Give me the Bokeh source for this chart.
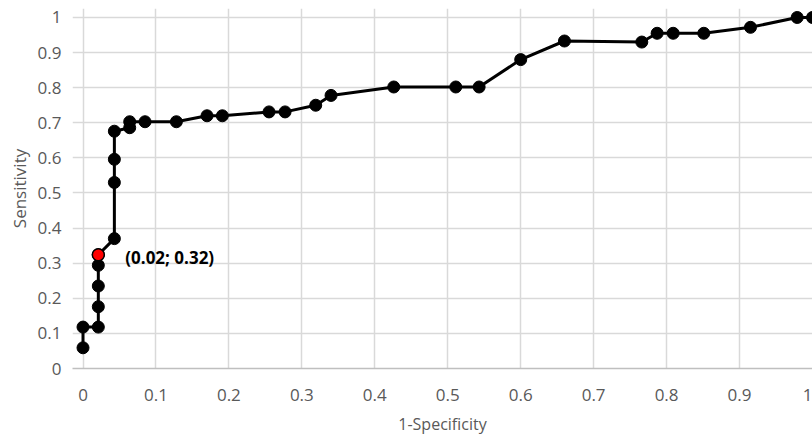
from bokeh.plotting import figure
from bokeh.models import Range1d, FixedTicker, Label, ColumnDataSource
from bokeh.embed import file_html
from bokeh.resources import INLINE

# 1-Specificity (false positive rate) and Sensitivity values of the ROC curve
fpr = [0.0, 0.0, 0.021, 0.021, 0.021, 0.021, 0.021, 0.043, 0.043, 0.043, 0.043,
       0.064, 0.064, 0.085, 0.128, 0.170, 0.191, 0.255, 0.277, 0.319, 0.340,
       0.426, 0.511, 0.543, 0.600, 0.660, 0.766, 0.787, 0.809, 0.851, 0.915,
       0.979, 1.0]
tpr = [0.059, 0.118, 0.118, 0.176, 0.235, 0.294, 0.324, 0.370, 0.530, 0.596, 0.676,
       0.686, 0.703, 0.703, 0.703, 0.720, 0.720, 0.731, 0.731, 0.750, 0.778,
       0.802, 0.802, 0.802, 0.880, 0.933, 0.930, 0.955, 0.955, 0.955, 0.972,
       1.0, 1.0]

# highlighted cut-off point
best_x = [0.021]
best_y = [0.324]
best_label = "(0.02; 0.32)"

x_ticks = [0, 0.1, 0.2, 0.3, 0.4, 0.5, 0.6, 0.7, 0.8, 0.9, 1.0]
y_ticks = [0, 0.1, 0.2, 0.3, 0.4, 0.5, 0.6, 0.7, 0.8, 0.9, 1.0]
x_tick_labels = {0: "0", 0.1: "0.1", 0.2: "0.2", 0.3: "0.3", 0.4: "0.4", 0.5: "0.5",
                 0.6: "0.6", 0.7: "0.7", 0.8: "0.8", 0.9: "0.9", 1.0: "1"}
y_tick_labels = dict(x_tick_labels)

FONT = "Open Sans"
GRAY = "#595959"

p = figure(width=812, height=439, output_backend="svg", toolbar_location=None,
           x_range=Range1d(-0.0144, 1.0), y_range=Range1d(0, 1.0256),
           min_border_left=72, min_border_right=0, min_border_top=8,
           min_border_bottom=71)
p.outline_line_color = None
p.background_fill_color = "white"

# grid
p.xgrid.ticker = FixedTicker(ticks=x_ticks)
p.ygrid.ticker = FixedTicker(ticks=y_ticks)
p.xgrid.grid_line_color = "#d9d9d9"
p.ygrid.grid_line_color = "#d9d9d9"
p.xgrid.grid_line_width = 1.5
p.ygrid.grid_line_width = 1.5

# axes
for ax in (p.xaxis[0], p.yaxis[0]):
    ax.major_tick_line_color = None
    ax.minor_tick_line_color = None
    ax.major_label_text_font = FONT
    ax.major_label_text_font_size = "17px"
    ax.major_label_text_color = GRAY
    ax.axis_label_text_font = FONT
    ax.axis_label_text_font_style = "normal"
    ax.axis_label_text_color = GRAY

p.xaxis.axis_label_text_font_size = "16px"
p.yaxis.axis_label_text_font_size = "17px"
p.xaxis.ticker = FixedTicker(ticks=x_ticks)
p.yaxis.ticker = FixedTicker(ticks=y_ticks)
p.xaxis.major_label_overrides = x_tick_labels
p.yaxis.major_label_overrides = y_tick_labels
p.xaxis.axis_label = "1-Specificity"
p.yaxis.axis_label = "Sensitivity"
p.xaxis.axis_line_color = "#bfbfbf"
p.xaxis.axis_line_width = 1.5
p.yaxis.axis_line_color = None
p.xaxis.major_label_standoff = 14
p.yaxis.major_label_standoff = 5
p.xaxis.axis_label_standoff = 9
p.yaxis.axis_label_standoff = 4

src = ColumnDataSource(dict(x=fpr, y=tpr))
p.line("x", "y", source=src, line_color="black", line_width=3)
p.scatter("x", "y", source=src, size=12, fill_color="black", line_color="black")

p.scatter(best_x, best_y, size=12, fill_color="#ff0000", line_color="black", line_width=1.5)
p.add_layout(Label(x=best_x[0], y=best_y[0], text=best_label, x_offset=27, y_offset=-3,
                   text_font=FONT, text_font_size="17px", text_font_style="bold",
                   text_color="black", text_baseline="middle"))

open("out.html", "w").write(file_html(p, INLINE))
